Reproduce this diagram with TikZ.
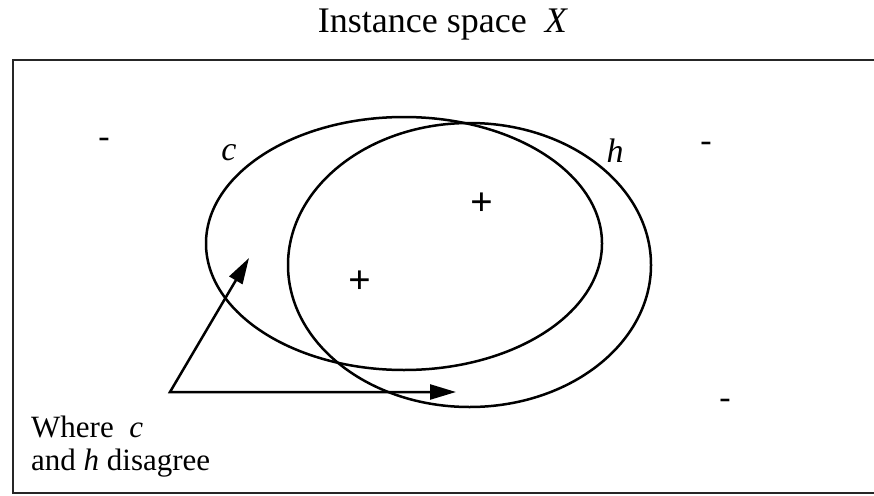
\documentclass[tikz,border=0pt]{standalone}
\usepackage{fontspec}
\setmainfont{Liberation Serif}
\usetikzlibrary{arrows.meta}
\tikzset{
  curve/.style={line width=2.5pt},
  frame/.style={line width=2.4pt, draw=black!85},
  pointer/.style={line width=2.5pt, {Triangle[length=26pt,width=15pt]}-{Triangle[length=26pt,width=15pt]}},
  lbl/.style={inner sep=0pt, anchor=base},
  sign/.style={inner sep=0pt, anchor=center, font=\fontsize{40}{40}\selectfont\bfseries},
  dash sign/.style={inner sep=0pt, anchor=center, font=\fontsize{34}{34}\selectfont},
  notetext/.style={inner sep=0pt, anchor=base west, font=\fontsize{31}{31}\selectfont},
}
\begin{document}
\begin{tikzpicture}[x=1pt,y=-1pt]
\useasboundingbox (0,0) rectangle (874,495);
\begin{scope}
\clip (0,0) rectangle (874,495);
\draw[frame] (13,60) rectangle (900,493);
\end{scope}
\node[lbl, font=\fontsize{36}{36}\selectfont] (title) at (443,33) {Instance space\ \ \textit{X}};
% concept and hypothesis
\draw[curve] (404,243.5) ellipse [x radius=198, y radius=126.5];
\draw[curve] (469.5,265) ellipse [x radius=181.5, y radius=142];
\node[lbl, font=\fontsize{34}{34}\selectfont\itshape] (clab) at (229,160) {c};
\node[lbl, font=\fontsize{34}{34}\selectfont\itshape] (hlab) at (615,162) {h};
% examples
\node[sign] (p1) at (482,204) {+};
\node[sign] (p2) at (360,282) {+};
\node[dash sign] (n1) at (104,143) {-};
\node[dash sign] (n2) at (706,147) {-};
\node[dash sign] (n3) at (725,404) {-};
% pointers
\coordinate (src) at (170,392);
\coordinate (t1) at (249,258);
\coordinate (t2) at (456,392);
\draw[pointer] (t1) -- (src) -- (t2);
\node[notetext] (note1) at (31,437) {Where\ \ \textit{c}};
\node[notetext] (note2) at (31,470) {and \textit{h} disagree};
\end{tikzpicture}
\end{document}
